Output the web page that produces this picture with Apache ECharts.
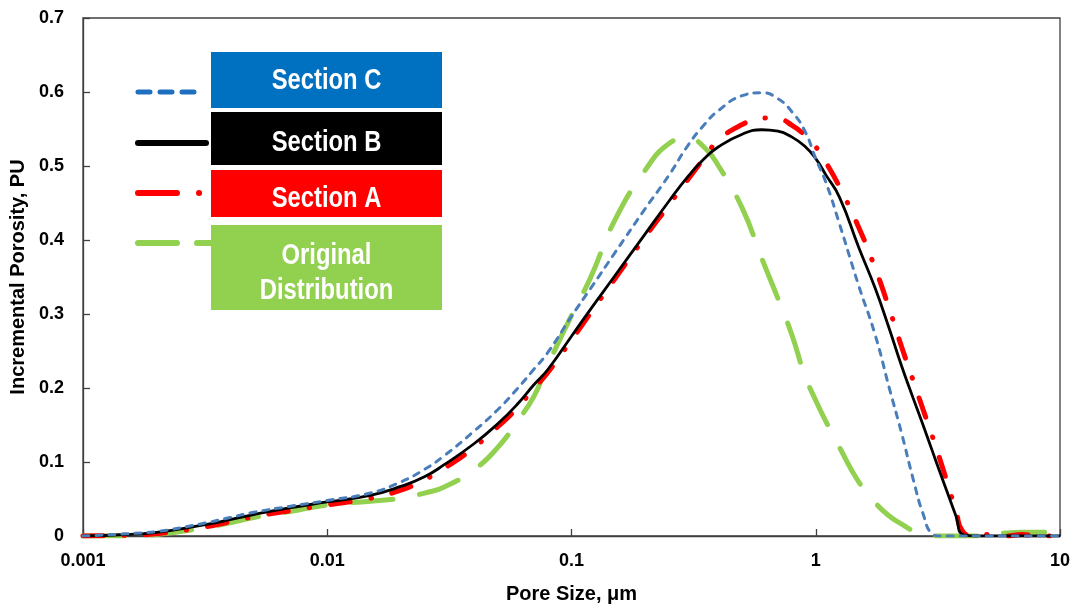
<!DOCTYPE html>
<html>
<head>
<meta charset="utf-8">
<title>Incremental Porosity vs Pore Size</title>
<script src="https://cdn.jsdelivr.net/npm/echarts@6/dist/echarts.min.js"></script>
<style>
  html, body { margin: 0; padding: 0; background: #fff; }
  #chart { width: 1075px; height: 609px; }
</style>
</head>
<body>
<div id="chart"></div>
<script>
// Pore size (µm) sample points shared by all curves
const poreSize = [0.001, 0.0015, 0.002, 0.003, 0.004, 0.005, 0.007, 0.01, 0.015, 0.02,
  0.025, 0.03, 0.04, 0.05, 0.06, 0.07, 0.08, 0.1, 0.12, 0.15,
  0.2, 0.25, 0.3, 0.35, 0.4, 0.5, 0.6, 0.7, 0.8, 0.9,
  1, 1.1, 1.25, 1.5, 1.75, 2, 2.25, 2.5, 2.75, 3,
  3.25, 3.5, 3.75, 4, 4.5, 5, 6, 7, 8, 10];

// Incremental porosity (PU) for each section
const sectionC = [0, 0.003, 0.006, 0.016, 0.025, 0.032, 0.040, 0.048, 0.058, 0.073,
  0.090, 0.108, 0.142, 0.171, 0.199, 0.225, 0.248, 0.297, 0.335, 0.382,
  0.442, 0.487, 0.528, 0.556, 0.575, 0.595, 0.599, 0.591, 0.573, 0.548,
  0.510, 0.478, 0.422, 0.338, 0.272, 0.200, 0.138, 0.078, 0.030, 0.003,
  0, 0, 0, 0, 0, 0, 0, 0, 0, 0];

const sectionB = [0, 0.002, 0.005, 0.014, 0.022, 0.029, 0.038, 0.046, 0.055, 0.067,
  0.080, 0.096, 0.125, 0.152, 0.178, 0.204, 0.225, 0.270, 0.307, 0.351,
  0.408, 0.452, 0.486, 0.510, 0.526, 0.543, 0.549, 0.547, 0.539, 0.527,
  0.510, 0.488, 0.458, 0.390, 0.335, 0.280, 0.229, 0.187, 0.150, 0.115,
  0.083, 0.054, 0.027, 0.002, 0, 0, 0, 0, 0, 0];

const sectionA = [0, 0.001, 0.003, 0.011, 0.019, 0.026, 0.034, 0.042, 0.051, 0.062,
  0.076, 0.091, 0.120, 0.148, 0.173, 0.199, 0.221, 0.265, 0.302, 0.347,
  0.404, 0.447, 0.482, 0.511, 0.535, 0.556, 0.565, 0.564, 0.555, 0.542,
  0.526, 0.505, 0.472, 0.417, 0.362, 0.307, 0.255, 0.211, 0.171, 0.135,
  0.100, 0.066, 0.034, 0.006, 0, 0.002, 0, 0.002, 0, 0];

const originalDistribution = [0, 0, 0.002, 0.010, 0.018, 0.025, 0.033, 0.042, 0.047, 0.051,
  0.058, 0.066, 0.090, 0.120, 0.155, 0.188, 0.231, 0.298, 0.350, 0.426,
  0.494, 0.530, 0.538, 0.525, 0.500, 0.443, 0.376, 0.321, 0.271, 0.218,
  0.183, 0.155, 0.120, 0.073, 0.045, 0.027, 0.016, 0.007, 0.002, 0,
  0, 0, 0, 0, 0, 0.001, 0.004, 0.005, 0.005, 0.006];

// Axis tick labels
const xTickLabels = ['0.001', '0.01', '0.1', '1', '10'];
const yTickLabels = ['0', '0.1', '0.2', '0.3', '0.4', '0.5', '0.6', '0.7'];

const FONT = '"Liberation Sans", Arial, sans-serif';
const AXIS_COLOR = '#404040';

function pairs(values) {
  return poreSize.map((x, i) => [x, values[i]]);
}

const chart = echarts.init(document.getElementById('chart'));

// Legend: line sample on the left, coloured label box on the right
const legendItems = [
  { box: '#0070c0', top: 52, bottom: 108, lines: ['Section C'], textY: [81],
    sample: { stroke: '#1f6fc0', lineWidth: 5, lineDash: [12, 10], x2: 196, y: 92 } },
  { box: '#000000', top: 112, bottom: 165, lines: ['Section B'], textY: [143],
    sample: { stroke: '#000000', lineWidth: 6, lineDash: null, x2: 206, y: 143 } },
  { box: '#ff0000', top: 170, bottom: 217, lines: ['Section A'], textY: [199],
    sample: { stroke: '#ff0000', lineWidth: 6, lineDash: [39, 22, 0.1, 100], x2: 201, y: 193 } },
  { box: '#92d050', top: 225, bottom: 310, lines: ['Original', 'Distribution'], textY: [256, 291],
    sample: { stroke: '#92d050', lineWidth: 6, lineDash: [39, 20], x2: 214, y: 243 } }
];

const legendGraphics = [];
legendItems.forEach(item => {
  const s = item.sample;
  legendGraphics.push({
    type: 'line', z: 10,
    shape: { x1: 138, y1: s.y, x2: s.x2, y2: s.y },
    style: { stroke: s.stroke, lineWidth: s.lineWidth, lineDash: s.lineDash, lineCap: 'round' }
  });
  legendGraphics.push({
    type: 'rect', z: 11,
    shape: { x: 211, y: item.top, width: 231, height: item.bottom - item.top },
    style: { fill: item.box }
  });
  item.lines.forEach((t, i) => {
    legendGraphics.push({
      type: 'text', z: 12,
      x: 326.5, y: item.textY[i],
      scaleX: 0.82,
      style: {
        text: t, fill: '#ffffff', align: 'center', verticalAlign: 'middle',
        font: 'bold 29px ' + FONT
      }
    });
  });
});

const option = {
  backgroundColor: '#ffffff',
  animation: false,
  grid: {
    left: 82, right: 15, top: 18, bottom: 71,
    show: true, borderColor: AXIS_COLOR, borderWidth: 1.3, backgroundColor: 'transparent'
  },
  xAxis: {
    type: 'log', logBase: 10, min: 0.001, max: 10,
    name: 'Pore Size, μm', nameLocation: 'middle', nameGap: 48,
    nameTextStyle: { fontFamily: FONT, fontWeight: 'bold', fontSize: 20, color: '#000' },
    axisLine: { show: true, lineStyle: { color: AXIS_COLOR, width: 1.3 } },
    axisTick: { show: true, inside: true, length: 7, lineStyle: { color: AXIS_COLOR, width: 1.3 } },
    minorTick: { show: false },
    splitLine: { show: false },
    axisLabel: {
      fontFamily: FONT, fontWeight: 'bold', fontSize: 18, color: '#000', margin: 16,
      formatter: v => xTickLabels[Math.round(Math.log10(v)) + 3]
    }
  },
  yAxis: {
    type: 'value', min: 0, max: 0.7, interval: 0.1,
    name: 'Incremental Porosity, PU', nameLocation: 'middle', nameGap: 55,
    nameTextStyle: { fontFamily: FONT, fontWeight: 'bold', fontSize: 20, color: '#000' },
    axisLine: { show: true, lineStyle: { color: AXIS_COLOR, width: 1.3 } },
    axisTick: { show: true, inside: true, length: 7, lineStyle: { color: AXIS_COLOR, width: 1.3 } },
    splitLine: { show: false },
    axisLabel: {
      fontFamily: FONT, fontWeight: 'bold', fontSize: 18, color: '#000', margin: 19,
      formatter: v => yTickLabels[Math.round(v * 10)]
    }
  },
  series: [
    {
      name: 'Original Distribution', type: 'line', data: pairs(originalDistribution),
      showSymbol: false, smooth: 0.5, z: 2,
      lineStyle: { color: '#92d050', width: 5, type: [41, 27], cap: 'round' }
    },
    {
      name: 'Section A', type: 'line', data: pairs(sectionA),
      showSymbol: false, smooth: 0.5, z: 3,
      lineStyle: { color: '#ff0000', width: 5, type: [20, 21, 0.5, 21], cap: 'round' }
    },
    {
      name: 'Section B', type: 'line', data: pairs(sectionB),
      showSymbol: false, smooth: 0.5, z: 4,
      lineStyle: { color: '#000000', width: 2.8 }
    },
    {
      name: 'Section C', type: 'line', data: pairs(sectionC),
      showSymbol: false, smooth: 0.5, z: 5,
      lineStyle: { color: '#4a7ebb', width: 3, type: [6, 7], cap: 'round' }
    }
  ],
  graphic: legendGraphics
};

chart.setOption(option);
</script>
</body>
</html>
